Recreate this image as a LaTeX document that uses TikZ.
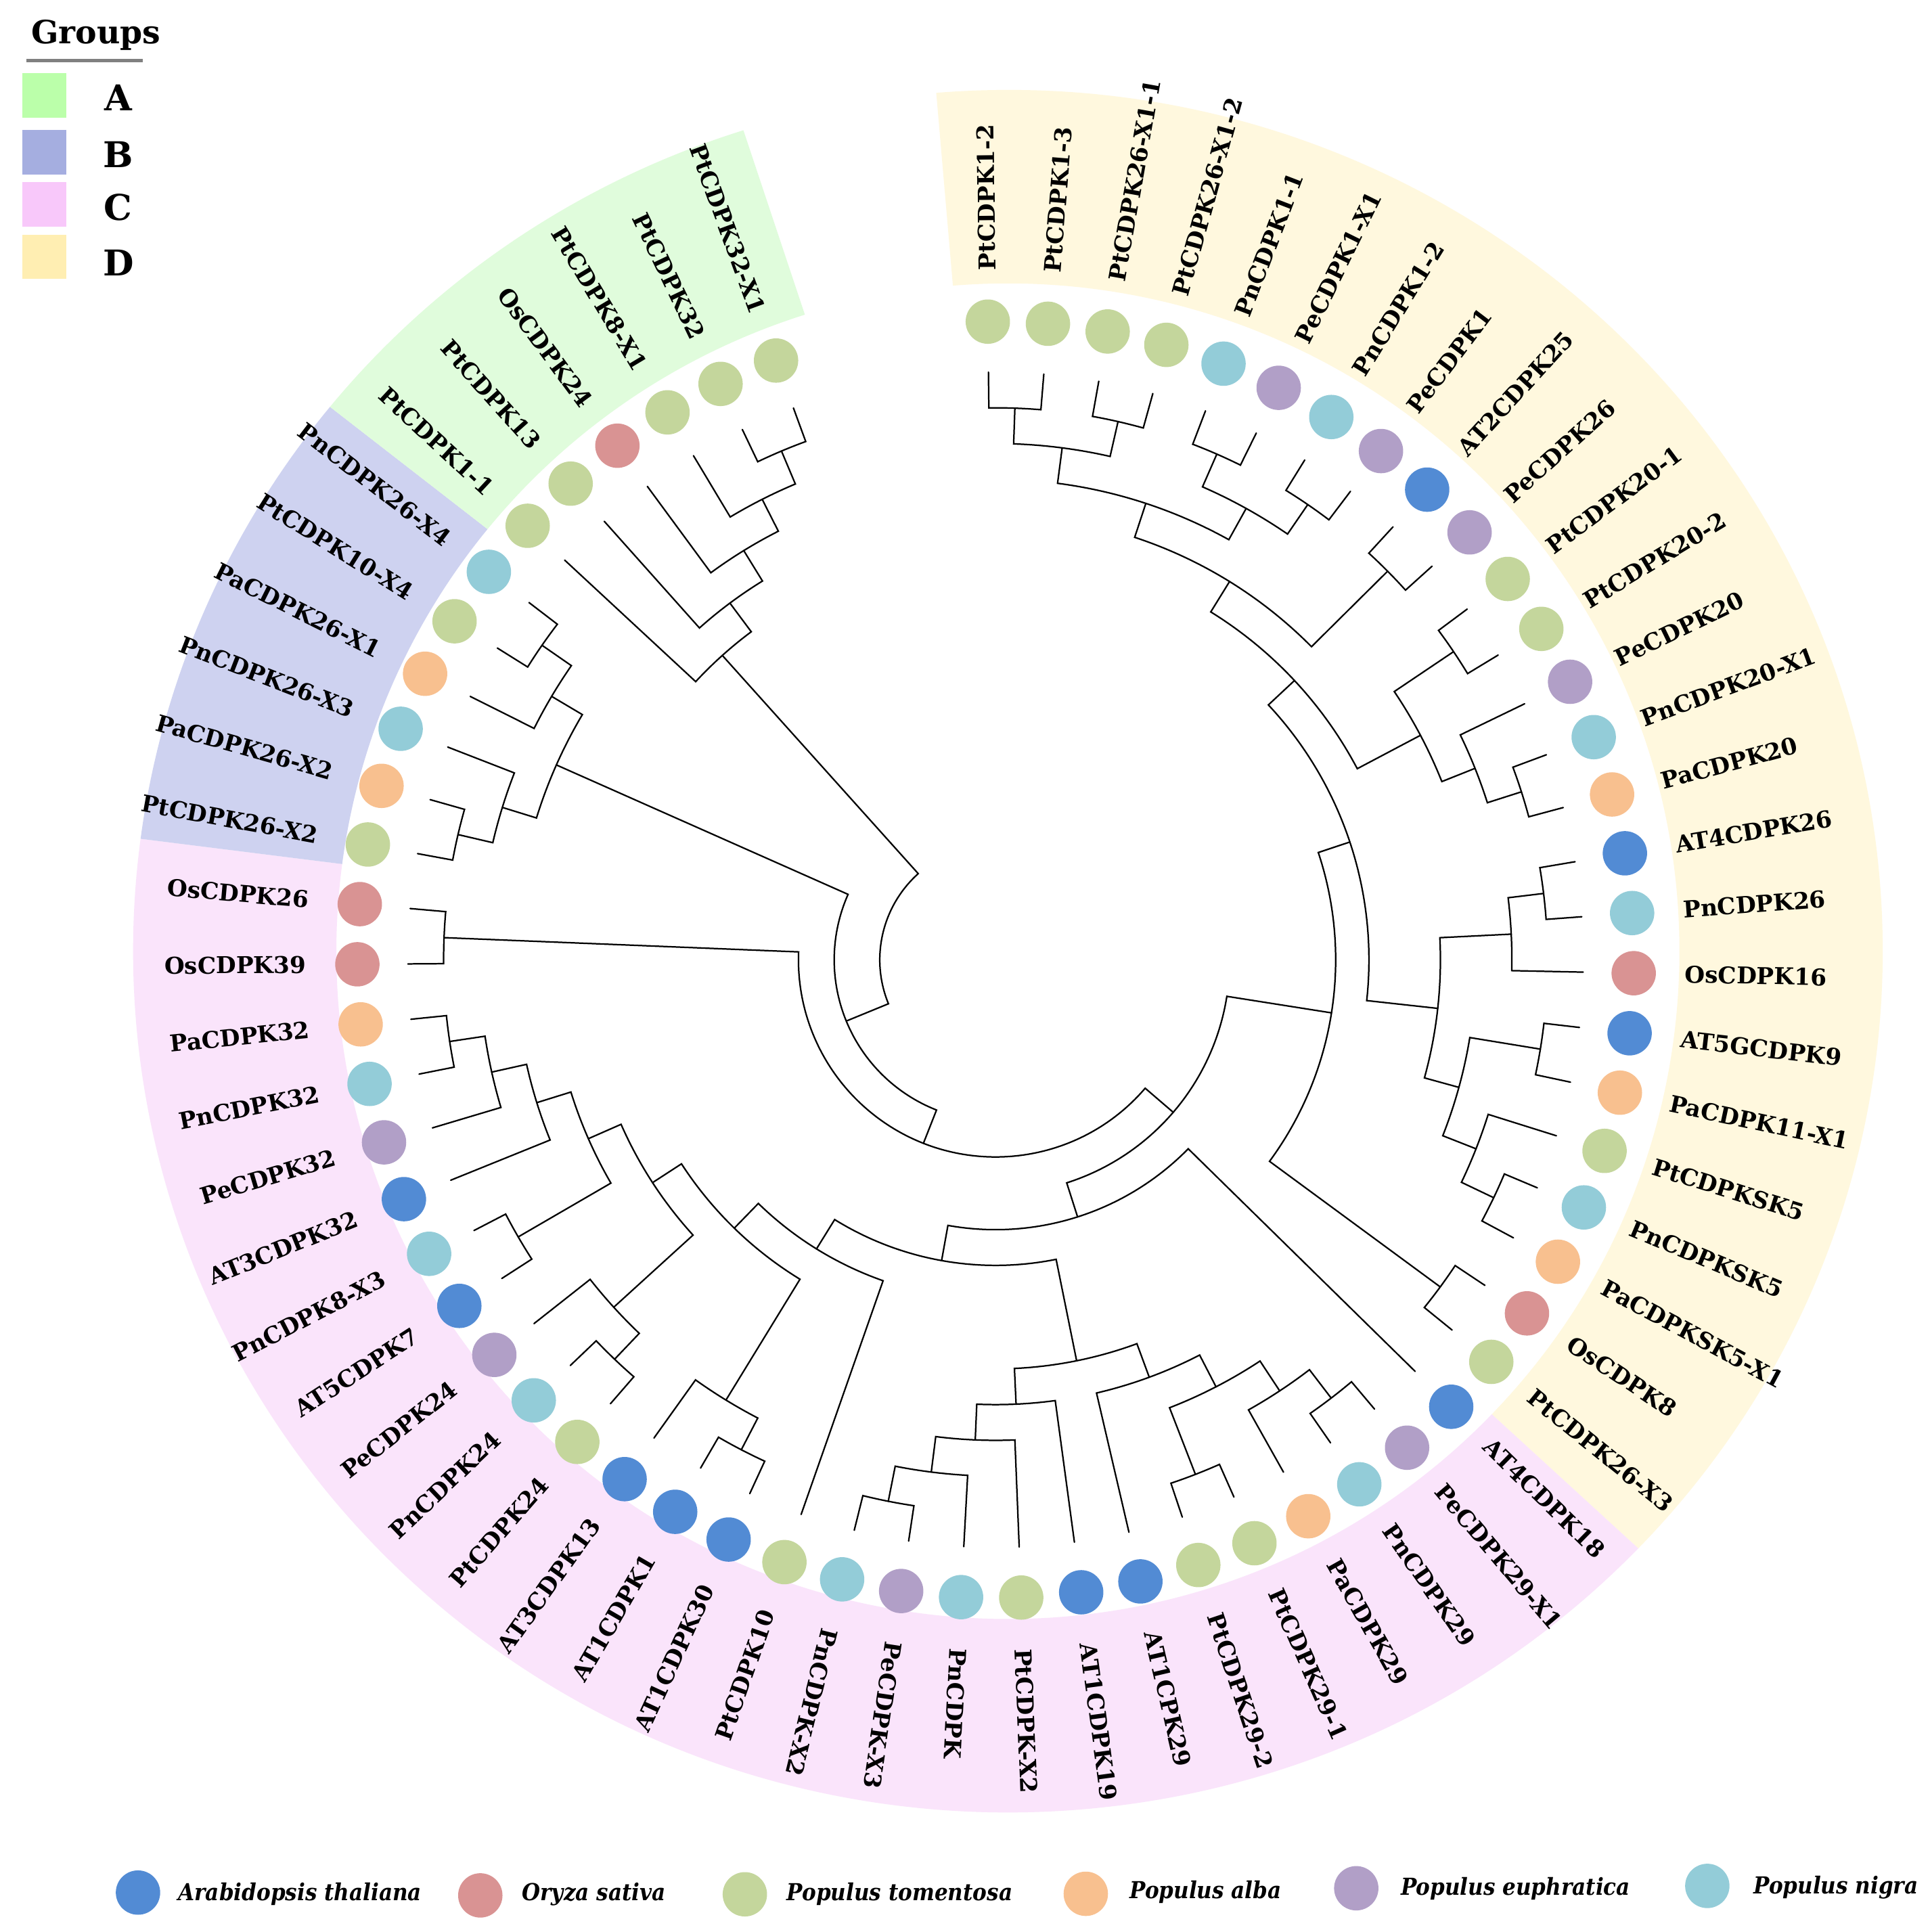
\documentclass[tikz,border=0pt]{standalone}
\usepackage{fontspec}
\setmainfont{DejaVu Serif}
\newfontfamily\condfont{DejaVu Serif Condensed}
\usepackage{tikz}

\definecolor{ara}{RGB}{82,139,212}
\definecolor{ory}{RGB}{217,147,147}
\definecolor{tom}{RGB}{196,214,156}
\definecolor{alb}{RGB}{248,192,143}
\definecolor{eup}{RGB}{177,159,199}
\definecolor{nig}{RGB}{147,204,216}
\definecolor{grpA}{RGB}{187,255,170}
\definecolor{grpB}{RGB}{165,174,224}
\definecolor{grpC}{RGB}{248,200,250}
\definecolor{grpD}{RGB}{255,238,178}
\definecolor{bandA}{RGB}{224,252,220}
\definecolor{bandB}{RGB}{206,210,240}
\definecolor{bandC}{RGB}{250,228,251}
\definecolor{bandD}{RGB}{255,248,222}

\tikzset{
  branch/.style={line width=0.35pt, line cap=round},
  tip/.style={circle, minimum size=3.6mm, inner sep=0pt},
  lab/.style={inner sep=0pt, font=\fontsize{5.35}{6}\selectfont\bfseries},
  sq/.style={minimum width=3.55mm, minimum height=3.6mm, inner sep=0pt},
  spname/.style={anchor=base west, inner sep=0pt, font=\condfont\fontsize{5.4}{6}\selectfont\bfseries\itshape}
}

\begin{document}
\begin{tikzpicture}[declare function={ang(\p)=90.7-5.406*\p;}]
\useasboundingbox (0,0) rectangle (15.66,15.68);
\fill[white] (0,0) rectangle (15.66,15.68);

\begin{scope}[shift={(8.18,7.96)}]
  \foreach \bc/\ba/\bb in {bandD/94.7/-43.9, bandC/-43.9/-187.5, bandB/-187.5/-219.2, bandA/-219.2/-252.4}
    \fill[\bc] (\ba:7.10 and 6.99) arc[start angle=\ba, end angle=\bb, x radius=7.10, y radius=6.99]
      -- (\bb:5.45 and 5.42) arc[start angle=\bb, end angle=\ba, x radius=5.45, y radius=5.42] -- cycle;
\end{scope}

\begin{scope}[shift={(8.08,7.89)}]
  \foreach \pa/\ra/\pb/\rb/\rr in {
    0/4.77/1/4.77/4.48, 2/4.77/3/4.77/4.48, 0.5/4.48/2.5/4.48/4.19,
    4/4.77/5/4.77/4.48, 6/4.77/7/4.77/4.48, 4.5/4.48/6.5/4.48/4.19,
    1.5/4.19/5.5/4.19/3.90, 8/4.77/9/4.77/4.48, 3.5/3.90/8.5/4.48/3.61,
    10/4.77/11/4.77/4.48, 13/4.77/14/4.77/4.48, 12/4.77/13.5/4.48/4.19,
    10.5/4.48/12.75/4.19/3.90, 6/3.61/11.625/3.90/3.32,
    15/4.77/16/4.77/4.48, 15.5/4.48/17/4.77/4.19, 18/4.77/19/4.77/4.48,
    21/4.77/22/4.77/4.48, 20/4.77/21.5/4.48/4.19, 18.5/4.48/20.75/4.19/3.90,
    16.25/4.19/19.625/3.90/3.61, 8.8125/3.32/17.9375/3.61/3.03,
    23/4.77/24/4.77/4.48, 13.375/3.03/23.5/4.48/2.76,
    26/4.77/27/4.77/4.48, 26.5/4.48/28/4.77/4.19, 29/4.77/30/4.77/4.48,
    27.25/4.19/29.5/4.48/3.90, 28.375/3.90/31/4.77/3.61,
    35/4.77/36/4.77/4.48, 34/4.77/35.5/4.48/4.19, 33/4.77/34.75/4.19/3.90,
    32/4.77/33.875/3.90/3.61, 29.6875/3.61/32.9375/3.61/3.32,
    38/4.77/39/4.77/4.48, 38.5/4.48/40/4.77/4.19,
    41/4.77/42/4.77/4.48, 41.5/4.48/43/4.77/4.19,
    44/4.77/45/4.77/4.48, 48/4.77/49/4.77/4.48, 47/4.77/48.5/4.48/4.19,
    46/4.77/47.75/4.19/3.90, 44.5/4.48/46.875/3.90/3.61,
    42.25/4.19/45.6875/3.61/3.32, 39.25/4.19/43.96875/3.32/3.04,
    37/4.77/41.609375/3.04/2.76, 31.3125/3.32/39.3046875/2.76/2.48,
    25/4.77/35.30859/2.48/2.19, 18.4375/2.76/30.1543/2.19/1.90,
    50/4.77/51/4.77/4.48, 24.2959/1.90/50.5/4.48/1.60,
    52/4.77/53/4.77/4.48, 52.5/4.48/54/4.77/4.19,
    56/4.77/57/4.77/4.48, 55/4.77/56.5/4.48/4.19,
    53.25/4.19/55.75/4.19/3.90, 37.398/1.60/54.5/3.90/1.31,
    62/4.77/63/4.77/4.48, 61/4.77/62.5/4.48/4.19, 60/4.77/61.75/4.19/3.90,
    59/4.77/60.875/3.90/3.61, 58/4.77/59.9375/3.61/3.32,
    45.949/1.31/58.96875/3.32/0.94}
    \draw[branch] ({ang(\pa)}:\ra) -- ({ang(\pa)}:\rr)
      arc[start angle={ang(\pa)}, end angle={ang(\pb)}, radius=\rr] -- ({ang(\pb)}:\rb);

  \foreach \i/\nm/\spc in {
    0/PtCDPK1-2/tom, 1/PtCDPK1-3/tom, 2/PtCDPK26-X1-1/tom, 3/PtCDPK26-X1-2/tom,
    4/PnCDPK1-1/nig, 5/PeCDPK1-X1/eup, 6/PnCDPK1-2/nig, 7/PeCDPK1/eup,
    8/AT2CDPK25/ara, 9/PeCDPK26/eup, 10/PtCDPK20-1/tom, 11/PtCDPK20-2/tom,
    12/PeCDPK20/eup, 13/PnCDPK20-X1/nig, 14/PaCDPK20/alb, 15/AT4CDPK26/ara,
    16/PnCDPK26/nig, 17/OsCDPK16/ory, 18/AT5GCDPK9/ara, 19/PaCDPK11-X1/alb,
    20/PtCDPKSK5/tom, 21/PnCDPKSK5/nig, 22/PaCDPKSK5-X1/alb, 23/OsCDPK8/ory,
    24/PtCDPK26-X3/tom, 25/AT4CDPK18/ara, 26/PeCDPK29-X1/eup, 27/PnCDPK29/nig,
    28/PaCDPK29/alb, 29/PtCDPK29-1/tom, 30/PtCDPK29-2/tom, 31/AT1CPK29/ara,
    32/AT1CDPK19/ara, 33/PtCDPK-X2/tom, 34/PnCDPK/nig, 35/PeCDPK-X3/eup,
    36/PnCDPK-X2/nig, 37/PtCDPK10/tom, 38/AT1CDPK30/ara, 39/AT1CDPK1/ara,
    40/AT3CDPK13/ara, 41/PtCDPK24/tom, 42/PnCDPK24/nig, 43/PeCDPK24/eup,
    44/AT5CDPK7/ara, 45/PnCDPK8-X3/nig, 46/AT3CDPK32/ara, 47/PeCDPK32/eup,
    48/PnCDPK32/nig, 49/PaCDPK32/alb, 50/OsCDPK39/ory, 51/OsCDPK26/ory,
    52/PtCDPK26-X2/tom, 53/PaCDPK26-X2/alb, 54/PnCDPK26-X3/nig, 55/PaCDPK26-X1/alb,
    56/PtCDPK10-X4/tom, 57/PnCDPK26-X4/nig, 58/PtCDPK1-1/tom, 59/PtCDPK13/tom,
    60/OsCDPK24/ory, 61/PtCDPK8-X1/tom, 62/PtCDPK32/tom, 63/PtCDPK32-X1/tom}{
    \pgfmathsetmacro{\tha}{ang(\i)}
    \pgfmathtruncatemacro{\flip}{(\tha>100 || \tha<-105) ? 1 : 0}
    \node[tip, fill=\spc] (t\i) at (\tha:5.18) {};
    \ifnum\flip=1
      \node[lab, anchor=east, rotate=\tha+180] (l\i) at (\tha:5.59) {\nm};
    \else
      \node[lab, anchor=west, rotate=\tha] (l\i) at (\tha:5.59) {\nm};
    \fi
  }
\end{scope}

\node[anchor=base, inner sep=0pt, font=\fontsize{7.4}{9}\selectfont\bfseries] (groups) at (0.778,15.323) {Groups};
\draw[gray, line width=0.8pt] (0.216,15.19) -- (1.157,15.19);
\foreach \g/\y/\yb in {A/14.905/14.783, B/14.443/14.32, C/14.02/13.89, D/13.595/13.44}{
  \node[sq, fill=grp\g] (sq\g) at (0.36,\y) {};
  \node[anchor=base, inner sep=0pt, font=\fontsize{8.2}{9}\selectfont\bfseries] (gl\g) at (0.96,\yb) {\g};
}

\foreach \spc/\x/\y/\tx/\ty/\txt in {
  ara/1.12/0.32/1.44/0.255/Arabidopsis thaliana,
  ory/3.898/0.297/4.23/0.255/Oryza sativa,
  tom/6.045/0.306/6.38/0.255/Populus tomentosa,
  alb/8.812/0.31/9.162/0.273/Populus alba,
  eup/11.007/0.355/11.363/0.30/Populus euphratica,
  nig/13.856/0.374/14.226/0.31/Populus nigra}{
  \node[tip, fill=\spc] (k\spc) at (\x,\y) {};
  \node[spname] (n\spc) at (\tx,\ty) {\txt};
}
\end{tikzpicture}
\end{document}
